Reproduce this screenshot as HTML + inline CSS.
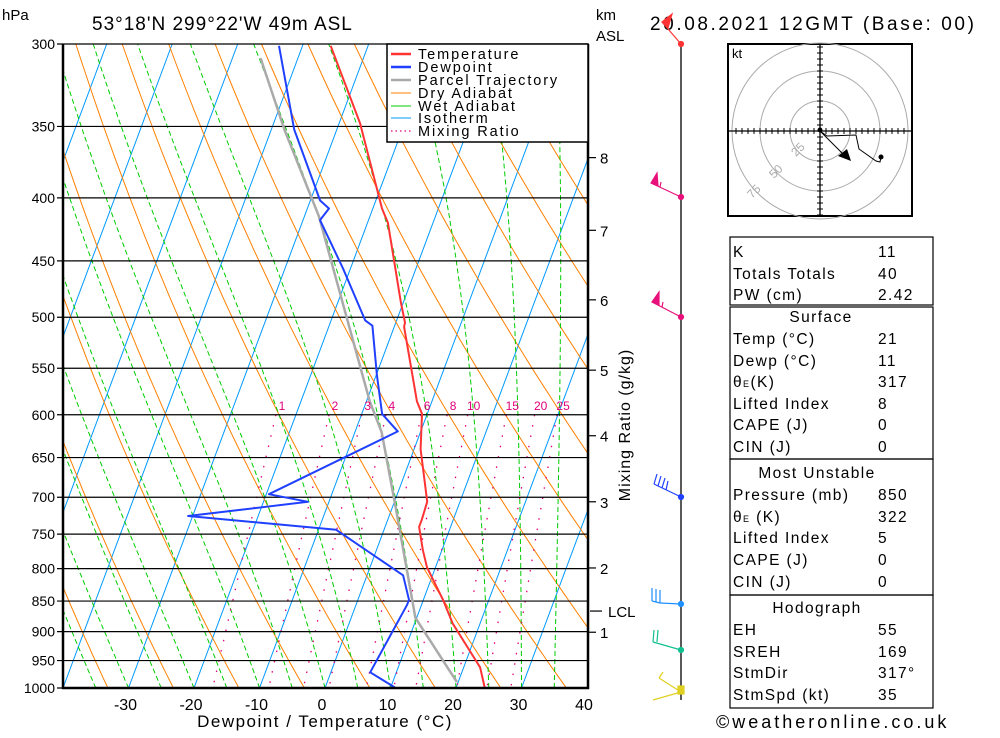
<!DOCTYPE html>
<html><head><meta charset="utf-8"><style>
body{margin:0;background:#fff;}
svg text{font-family:"Liberation Sans","DejaVu Sans",sans-serif;}
</style></head><body>
<svg id="chart" width="1000" height="733" viewBox="0 0 1000 733" xmlns="http://www.w3.org/2000/svg">
<defs><clipPath id="plotclip"><rect x="63" y="44" width="525" height="644"/></clipPath></defs>
<rect width="1000" height="733" fill="#fff"/>
<g id="bg" clip-path="url(#plotclip)"></g>
<g id="iso"></g>
<g id="series" clip-path="url(#plotclip)"></g>
<g id="axes"></g>

<text x="2" y="20" font-size="15">hPa</text>
<text x="92" y="30" font-size="19" letter-spacing="1">53°18'N  299°22'W  49m  ASL</text>
<text x="596" y="20" font-size="15">km</text>
<text x="596" y="41" font-size="15">ASL</text>
<text x="650" y="30" font-size="19" letter-spacing="2.6">20.08.2021  12GMT  (Base: 00)</text>
<text x="325" y="727" font-size="17" text-anchor="middle" letter-spacing="1.5">Dewpoint / Temperature (°C)</text>
<text transform="translate(630,425) rotate(-90)" font-size="16" text-anchor="middle" letter-spacing="1">Mixing Ratio (g/kg)</text>

<!-- legend -->
<g>
<rect x="387" y="44" width="201" height="98" fill="#fff" stroke="#000" stroke-width="1.5"/>
<g font-size="14.5" letter-spacing="1.9">
<line x1="391" y1="54" x2="411" y2="54" stroke="#ff3333" stroke-width="2.5"/><text x="418" y="59">Temperature</text>
<line x1="391" y1="67" x2="411" y2="67" stroke="#2040ff" stroke-width="2.5"/><text x="418" y="72">Dewpoint</text>
<line x1="391" y1="80" x2="411" y2="80" stroke="#aaa" stroke-width="2.5"/><text x="418" y="85">Parcel Trajectory</text>
<line x1="391" y1="93" x2="411" y2="93" stroke="#ff8000" stroke-width="1"/><text x="418" y="98">Dry Adiabat</text>
<line x1="391" y1="106" x2="411" y2="106" stroke="#00cc00" stroke-width="1"/><text x="418" y="111">Wet Adiabat</text>
<line x1="391" y1="118" x2="411" y2="118" stroke="#0099ff" stroke-width="1"/><text x="418" y="123">Isotherm</text>
<line x1="391" y1="131" x2="411" y2="131" stroke="#e0007a" stroke-width="1.2" stroke-dasharray="1.5,3"/><text x="418" y="136">Mixing Ratio</text>
</g></g>

<!-- wind barbs -->
<g>
<line x1="681" y1="44" x2="681" y2="700" stroke="#000" stroke-width="1.3"/>
<g stroke="#ff3333" fill="#ff3333" stroke-width="1.2"><line x1="681" y1="44" x2="662" y2="22"/><polygon points="662,22 672,14 668,28"/><circle cx="681" cy="44" r="2.5"/></g>
<g stroke="#e8107a" fill="#e8107a" stroke-width="1.2"><line x1="681" y1="197" x2="651" y2="183"/><polygon points="651,183 657,173 658,186"/><line x1="660" y1="187" x2="661" y2="182"/><circle cx="681" cy="197" r="2.5"/></g>
<g stroke="#e8107a" fill="#e8107a" stroke-width="1.2"><line x1="681" y1="317" x2="652" y2="302"/><polygon points="652,302 659,292 659,305"/><line x1="662" y1="307" x2="663" y2="302"/><circle cx="681" cy="317" r="2.5"/></g>
<g stroke="#2040ff" fill="#2040ff" stroke-width="1.2"><line x1="681" y1="497" x2="654" y2="484"/><line x1="654" y1="484" x2="657" y2="474"/><line x1="658" y1="486" x2="661" y2="476"/><line x1="662" y1="488" x2="665" y2="478"/><line x1="666" y1="490" x2="668" y2="481"/><circle cx="681" cy="497" r="2.5"/></g>
<g stroke="#1e90ff" fill="#1e90ff" stroke-width="1.2"><line x1="681" y1="604" x2="660" y2="603"/><line x1="652" y1="601" x2="660" y2="603"/><line x1="652" y1="601" x2="652" y2="588"/><line x1="656" y1="602" x2="656" y2="589"/><line x1="660" y1="603" x2="660" y2="590"/><circle cx="681" cy="604" r="2.5"/></g>
<g stroke="#10c090" fill="#10c090" stroke-width="1.2"><line x1="681" y1="650" x2="653" y2="642"/><line x1="653" y1="642" x2="654" y2="630"/><line x1="657" y1="642" x2="658" y2="630"/><circle cx="681" cy="650" r="2.5"/></g>
<g stroke="#e0d020" fill="#e0d020" stroke-width="1.2"><line x1="681" y1="692" x2="653" y2="700"/><line x1="681" y1="692" x2="659" y2="678"/><line x1="659" y1="678" x2="663" y2="672"/><rect x="678" y="686" width="6" height="8"/></g>
</g>

<!-- hodograph -->
<g>
<rect x="728" y="44" width="184" height="172" fill="#fff" stroke="#000" stroke-width="2"/>
<g fill="none" stroke="#aaa" stroke-width="1"><circle cx="820" cy="131" r="30"/><circle cx="820" cy="131" r="60"/><circle cx="820" cy="131" r="88"/></g>
<line x1="728" y1="131" x2="912" y2="131" stroke="#000" stroke-width="1.3"/>
<line x1="820" y1="44" x2="820" y2="216" stroke="#000" stroke-width="1.3"/>
<g id="hodoticks" stroke="#000" stroke-width="1"></g>
<text x="732" y="58" font-size="13">kt</text>
<g fill="#aaa" font-size="12"><text transform="translate(796,157) rotate(-45)">25</text><text transform="translate(774,179) rotate(-45)">50</text><text transform="translate(752,199) rotate(-45)">75</text></g>
<polyline points="820,131 827,136 856,135 859,149 876,161 880,162 881,157" fill="none" stroke="#000" stroke-width="1"/>
<circle cx="881" cy="157" r="2.5" fill="#000"/><circle cx="820" cy="130" r="2.5" fill="#000"/>
<line x1="820" y1="131" x2="844" y2="155" stroke="#000" stroke-width="1"/>
<polygon points="851,161 838,156 847,149" fill="#000"/>
</g>

<!-- tables -->
<g font-size="15.5" letter-spacing="1.4">
<rect x="730" y="237" width="203" height="68" fill="none" stroke="#000" stroke-width="1.2"/>
<text x="733" y="257">K</text><text x="878" y="257">11</text>
<text x="733" y="279">Totals Totals</text><text x="878" y="279">40</text>
<text x="733" y="300">PW (cm)</text><text x="878" y="300">2.42</text>
<rect x="730" y="307" width="203" height="152" fill="none" stroke="#000" stroke-width="1.2"/>
<text x="821" y="322" text-anchor="middle">Surface</text>
<text x="733" y="344">Temp (°C)</text><text x="878" y="344">21</text>
<text x="733" y="366">Dewp (°C)</text><text x="878" y="366">11</text>
<text x="733" y="387">θ<tspan font-size="9">E</tspan>(K)</text><text x="878" y="387">317</text>
<text x="733" y="409">Lifted Index</text><text x="878" y="409">8</text>
<text x="733" y="430">CAPE (J)</text><text x="878" y="430">0</text>
<text x="733" y="452">CIN (J)</text><text x="878" y="452">0</text>
<rect x="730" y="459" width="203" height="136" fill="none" stroke="#000" stroke-width="1.2"/>
<text x="817" y="478" text-anchor="middle">Most Unstable</text>
<text x="733" y="500">Pressure (mb)</text><text x="878" y="500">850</text>
<text x="733" y="522">θ<tspan font-size="9">E</tspan> (K)</text><text x="878" y="522">322</text>
<text x="733" y="543">Lifted Index</text><text x="878" y="543">5</text>
<text x="733" y="565">CAPE (J)</text><text x="878" y="565">0</text>
<text x="733" y="587">CIN (J)</text><text x="878" y="587">0</text>
<rect x="730" y="595" width="203" height="113" fill="none" stroke="#000" stroke-width="1.2"/>
<text x="817" y="613" text-anchor="middle">Hodograph</text>
<text x="733" y="635">EH</text><text x="878" y="635">55</text>
<text x="733" y="657">SREH</text><text x="878" y="657">169</text>
<text x="733" y="678">StmDir</text><text x="878" y="678">317°</text>
<text x="733" y="700">StmSpd (kt)</text><text x="878" y="700">35</text>
</g>
<text x="716" y="728" font-size="18" letter-spacing="3">©weatheronline.co.uk</text>

<script>
// ---- data ----
const tempP = [301,348,408,419,486,505,509,585,599,640,682,706,730,740,773,798,848,886,940,962,1000,1000];
const tempT = [-35.7,-26.8,-18.6,-16.9,-10.4,-8.6,-8.5,-2.3,-0.8,1.0,3.6,5.0,5.2,5.2,7.1,8.7,13.0,15.8,20.6,22.5,24.4,21.5];
const dewP = [301,352,402,408,417,456,503,508,557,599,619,696,706,725,744,810,848,856,971,1000];
const dewT = [-43.6,-36.5,-28.5,-26.7,-27.4,-21.2,-14.8,-13.4,-9.9,-6.9,-3.5,-19.6,-13.2,-30.7,-7.3,5.5,7.8,7.8,6.0,10.8];
const parcelP = [308,352,414,585,620,718,877,989];
const parcelT = [-45.7,-38.0,-27.8,-9.5,-5.9,0.8,9.8,19.8];
const pressureTicks = [300,350,400,450,500,550,600,650,700,750,800,850,900,950,1000];
const tempTicks = [-30,-20,-10,0,10,20,30,40];
const mixRatios = [1,2,3,4,6,8,10,15,20,25];
const kmLabels = ['8','7','6','5','4','3','2','1'];
const kmPressures = [371,425,484,552,624,706,799,901];
const lclPressure = 866;
const wetStarts = [-40,-35,-30,-25,-20,-15,-10,-5,0,5,10,15,20,25,30,35];
const dryThetas = [230,240,250,260,270,280,290,300,310,320,330,340,350,360,370,380,390,400,410,420,430,440,450,460,470,480];

// ---- axes ----
const NS='http://www.w3.org/2000/svg';
const L1000 = Math.log(1000/300);
function Y(p){return 44 + Math.log(p/300)/L1000*644;}
function X(T,p){return 325 + 6.55*T + 0.373*(688-Y(p));}
function mk(tag, attrs, parent){const e=document.createElementNS(NS,tag);for(const k in attrs)e.setAttribute(k,attrs[k]);parent.appendChild(e);return e;}
const bg=document.getElementById('bg'), iso=document.getElementById('iso'), ser=document.getElementById('series'), ax=document.getElementById('axes');
function pathFrom(pts){return pts.map((q,i)=>(i?'L':'M')+q[0].toFixed(1)+','+q[1].toFixed(1)).join('');}

for(let T=-130;T<=40;T+=10){
  const l=mk('line',{x1:X(T,1000),y1:Y(1000),x2:X(T,300),y2:Y(300),stroke:'#0099ff','stroke-width':1},bg);
  
  
}
dryThetas.forEach(th=>{
  const pts=[];for(let p=300;p<=1000;p+=10){const T=th*Math.pow(p/1000,0.286)-273.15;pts.push([X(T,p),Y(p)]);}
  const e=mk('path',{d:pathFrom(pts),fill:'none',stroke:'#ff8000','stroke-width':1},bg);
  
  
});
function es(Tc){return 6.112*Math.exp(17.67*Tc/(Tc+243.5));}
wetStarts.forEach(T0=>{
  let T=T0+273.15, p=1000; const pts=[[X(T0,1000),Y(1000)]];
  while(p>300){const dp=-5;const Tc=T-273.15;const e=es(Tc);const rs=0.622*e/(p-e);
    const dTdp=(1/p)*(287*T+2.5e6*rs)/(1004+(2.5e6*2.5e6*rs*0.622)/(287*T*T));
    T+=dTdp*dp;p+=dp;pts.push([X(T-273.15,p),Y(p)]);}
  const e=mk('path',{d:pathFrom(pts),fill:'none',stroke:'#00cc00','stroke-width':1,'stroke-dasharray':'5,3'},bg);
  
  
});
function tdFromW(w,p){const e=w/1000*p/(0.622+w/1000);const a=Math.log(e/6.112);return 243.5*a/(17.67-a);}
mixRatios.forEach(w=>{
  const pts=[];for(let p=600;p<=1000;p+=10){pts.push([X(tdFromW(w,p),p),Y(p)]);}
  const e=mk('path',{d:pathFrom(pts),fill:'none',stroke:'#e0007a','stroke-width':1.3,'stroke-dasharray':'1.5,9'},bg);
  
  
  const t=mk('text',{x:X(tdFromW(w,600),600)+6,y:410,'font-size':12,fill:'#e0007a','text-anchor':'middle'},ax);
  t.textContent=w;
  
  
});
pressureTicks.forEach(p=>{
  const l=mk('line',{x1:57,y1:Y(p),x2:588,y2:Y(p),stroke:'#000','stroke-width':1.2},iso);
  
  
  const t=mk('text',{x:55,y:Y(p)+5,'font-size':14,'text-anchor':'end'},ax);
  t.textContent=p;
  
  
});
tempTicks.forEach(T=>{
  const t=mk('text',{x:X(T,1000)-3,y:710,'font-size':16,'text-anchor':'middle'},ax);
  t.textContent=T;
  
  
});
const fr=mk('path',{d:'M63,44 V688 H588 V44',fill:'none',stroke:'#000','stroke-width':2.5},ax);


kmLabels.forEach((k,i)=>{
  const y=Y(kmPressures[i]);
  mk('line',{x1:588,y1:y,x2:596,y2:y,stroke:'#000','stroke-width':1.2},ax);
  const t=mk('text',{x:600,y:y+6,'font-size':15},ax);
  t.textContent=k;
  
  
});
{const y=Y(lclPressure);mk('line',{x1:590,y1:y,x2:602,y2:y,stroke:'#000','stroke-width':1.2},ax);
 const t=mk('text',{x:608,y:y+6,'font-size':15},ax);t.textContent='LCL';
 
 }
function series(P,T,color,w,name){
  const pts=P.map((p,i)=>[X(T[i],p),Y(p)]);
  const e=mk('path',{d:pathFrom(pts),fill:'none',stroke:color,'stroke-width':w,'stroke-linejoin':'round'},ser);
  
  
}
series(parcelP,parcelT,'#aaaaaa',2.5,'parcel-trajectory-line');
series(dewP,dewT,'#2040ff',2,'dewpoint-line');
series(tempP,tempT,'#ff3333',2,'temperature-line');
const ht=document.getElementById('hodoticks');
for(let d=-84;d<=84;d+=6){if(d===0)continue;
  mk('line',{x1:820+d,y1:128,x2:820+d,y2:134},ht);
  mk('line',{x1:817,y1:131+d,x2:823,y2:131+d},ht);}
</script>
</svg>
</body></html>
